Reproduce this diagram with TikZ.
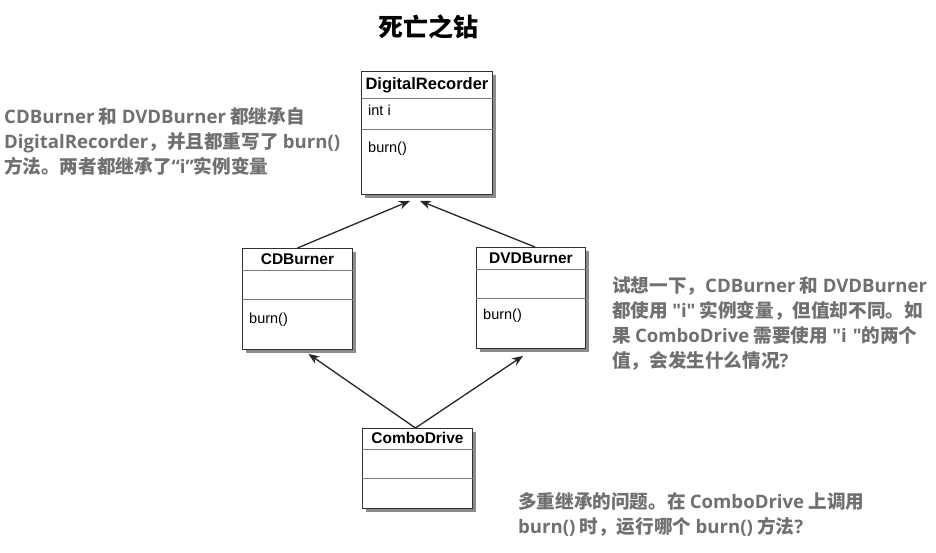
\documentclass[tikz,border=0pt]{standalone}
\usepackage{fontspec}
\setmainfont{Liberation Sans}
\newfontfamily\cjk{Noto Sans CJK SC}
\newfontfamily\lat{Open Sans}[WordSpace=1.25]
\usetikzlibrary{arrows.meta,shadows}
\definecolor{notegray}{RGB}{112,112,112}
\definecolor{boxline}{RGB}{50,50,50}
\definecolor{sepline}{RGB}{120,120,120}
\newcommand{\lt}[1]{{\lat #1}}
\tikzset{
  umlbox/.style={draw=boxline, line width=0.9pt, fill=white, rectangle, anchor=north west, inner sep=0pt,
    drop shadow={shadow xshift=3.5pt, shadow yshift=-3.5pt, fill=black, opacity=0.45}},
  sepln/.style={draw=sepline, line width=0.8pt},
  umltitle/.style={font=\fontsize{15.5}{18}\selectfont\bfseries, text=black, inner sep=0pt},
  umlmember/.style={font=\fontsize{14.5}{17}\selectfont, text=black, inner sep=0pt, anchor=west},
  inh/.style={draw=black!85, line width=1.3pt, -{Stealth[length=11pt,width=8.5pt]}},
  note/.style={font=\cjk\bfseries\fontsize{18.6}{25}\selectfont, text=notegray, align=left, inner sep=0pt, anchor=north west},
}
\begin{document}
\begin{tikzpicture}[x=1pt,y=-1pt]
\useasboundingbox[fill=white] (0,0) rectangle (936,552);

\node[font=\cjk\bfseries\fontsize{25}{30}\selectfont, text=black] (title) at (428,27) {死亡之钻};

% DigitalRecorder
\node[umlbox, minimum width=131pt, minimum height=123pt] (dr) at (361,71) {};
\draw[sepln] ([yshift=-27pt]dr.north west) -- ([yshift=-27pt]dr.north east);
\draw[sepln] ([yshift=-58pt]dr.north west) -- ([yshift=-58pt]dr.north east);
\node[umltitle, font=\fontsize{16.5}{19}\selectfont\bfseries] (drt) at ([yshift=-14pt]dr.north) {DigitalRecorder};
\node[umlmember] (dri) at ([xshift=7pt,yshift=-39pt]dr.north west) {int i};
\node[umlmember] (drb) at ([xshift=7pt,yshift=-78pt]dr.north west) {burn()};

% CDBurner
\node[umlbox, minimum width=110pt, minimum height=101pt] (cd) at (242,248) {};
\draw[sepln] ([yshift=-22pt]cd.north west) -- ([yshift=-22pt]cd.north east);
\draw[sepln] ([yshift=-51pt]cd.north west) -- ([yshift=-51pt]cd.north east);
\node[umltitle] (cdt) at ([yshift=-11pt]cd.north) {CDBurner};
\node[umlmember] (cdb) at ([xshift=7pt,yshift=-72pt]cd.north west) {burn()};

% DVDBurner
\node[umlbox, minimum width=109pt, minimum height=101pt] (dvd) at (476,247) {};
\draw[sepln] ([yshift=-22pt]dvd.north west) -- ([yshift=-22pt]dvd.north east);
\draw[sepln] ([yshift=-51pt]dvd.north west) -- ([yshift=-51pt]dvd.north east);
\node[umltitle] (dvdt) at ([yshift=-11pt]dvd.north) {DVDBurner};
\node[umlmember] (dvdb) at ([xshift=7pt,yshift=-69pt]dvd.north west) {burn()};

% ComboDrive
\node[umlbox, minimum width=110pt, minimum height=80pt] (cb) at (362,428) {};
\draw[sepln] ([yshift=-21pt]cb.north west) -- ([yshift=-21pt]cb.north east);
\draw[sepln] ([yshift=-50pt]cb.north west) -- ([yshift=-50pt]cb.north east);
\node[umltitle] (cbt) at ([yshift=-10pt]cb.north) {ComboDrive};

% inheritance arrows
\draw[inh] (cd.north) -- ([xshift=-17pt,yshift=-6pt]dr.south);
\draw[inh] ([xshift=4pt]dvd.north) -- ([xshift=-7pt,yshift=-6pt]dr.south);
\draw[inh] ([xshift=-2pt]cb.north) -- ([xshift=11pt,yshift=-4pt]cd.south);
\draw[inh] ([xshift=-2pt]cb.north) -- ([xshift=-8pt,yshift=-7pt]dvd.south);

% notes
\node[note] (n1) at (4,107) {\lt{CDBurner} 和 \lt{DVDBurner} 都继承自\\\lt{DigitalRecorder}，并且都重写了 \lt{burn()}\\方法。两者都继承了\lt{“i”}实例变量};
\node[note] (n2) at (612,276) {试想一下，\lt{CDBurner} 和 \lt{DVDBurner}\\都使用 \lt{"i"} 实例变量，但值却不同。如\\果 \lt{ComboDrive} 需要使用 \lt{"i "}的两个\\值，会发生什么情况\lt{?}};
\node[note] (n3) at (518,492) {多重继承的问题。在 \lt{ComboDrive} 上调用\\\lt{burn()} 时，运行哪个 \lt{burn()} 方法\lt{?}};
\end{tikzpicture}
\end{document}
